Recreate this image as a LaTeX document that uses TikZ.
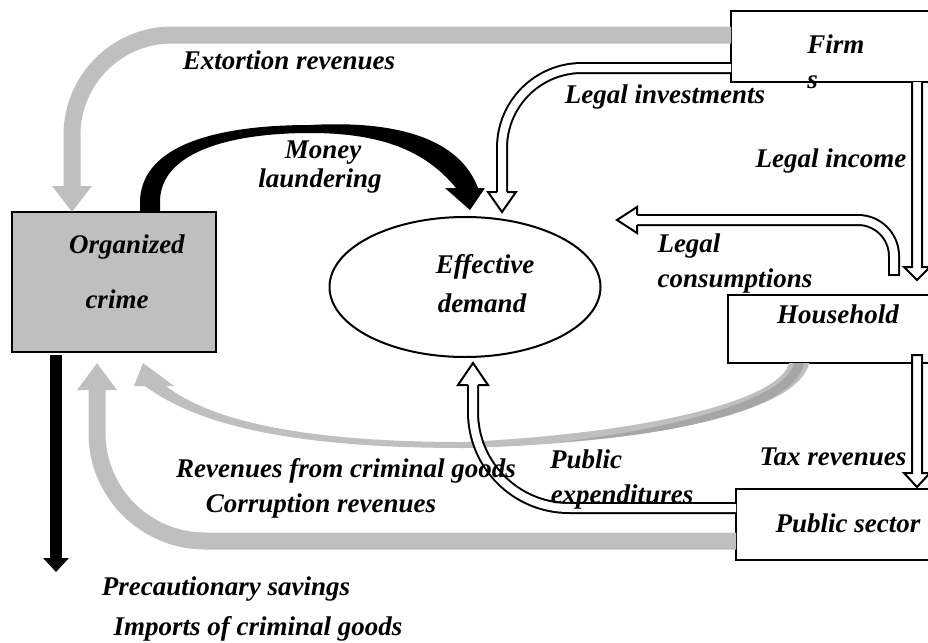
\documentclass[tikz,border=0pt]{standalone}
\usepackage{fontspec}
\setmainfont{Liberation Serif}
\usetikzlibrary{arrows.meta, shapes.geometric, calc}

\definecolor{flowgray}{HTML}{BFBFBF}
\definecolor{flowdark}{HTML}{A6A6A6}

\begin{document}
\begin{tikzpicture}[x=0.5pt, y=-0.5pt,
    sector/.style={draw, line width=1pt, inner sep=0pt, outer sep=0pt},
    hollow/.style={draw=black, line width=1pt, double=white, double distance=4pt},
    hollowhead/.style={draw=black, fill=white, line width=1pt, line join=miter},
    graybar/.style={draw=flowgray, line width=8.5pt},
    lbl/.style={font=\bfseries\itshape\fontsize{13.5}{16}\selectfont, inner sep=0pt, anchor=base}]
    \useasboundingbox (0,0) rectangle (928,643);

    % sectors
    \node[sector, fill=flowgray, minimum width=102pt, minimum height=70pt] (org) at (114,282) {};
    \node[sector, ellipse, minimum width=135.5pt, minimum height=70pt] (demand) at (465,287) {};
    \node[sector, minimum width=104.5pt, minimum height=35.5pt] (firm) at (835.5,46.5) {};
    \node[sector, minimum width=106pt, minimum height=34pt] (house) at (834,329) {};
    \node[sector, minimum width=102pt, minimum height=35.5pt] (pubsec) at (838,524.5) {};

    % criminal flows
    \draw[graybar, rounded corners=50pt, -{Triangle[width=19pt,length=13pt]}]
        (firm.west |- 0,35) -- (72,35) -- (org.north -| 72,0);
    \draw[graybar, rounded corners=54pt, -{Triangle[width=19pt,length=13.5pt]}]
        (pubsec.west |- 0,541) -- (97,541) -- (97,363);
    \fill[flowgray] (house.south -| 789,0) .. controls (780,400) and (650,433) .. (464,442)
        .. controls (300,442) and (210,420) .. (166,386) -- (174,386) -- (143,363)
        -- (134,386) -- (145,386) .. controls (200,427) and (300,448) .. (464,448)
        .. controls (660,443) and (800,410) .. (house.south -| 809,0) -- cycle;
    \fill[flowdark] (house.south -| 794,0) .. controls (787,398) and (680,428) .. (560,442)
        .. controls (690,434) and (798,405) .. (house.south -| 804,0) -- cycle;
    \fill (org.north -| 140,0) -- (140,200) .. controls (143,140) and (230,125) .. (310,125)
        .. controls (400,120) and (460,140) .. (478,188) -- (485,188) -- (470,210)
        -- (445,188) -- (456,188) .. controls (425,150) and (380,133) .. (310,133)
        .. controls (235,133) and (162,150) .. (160,200) -- (org.north -| 160,0) -- cycle;
    \draw[line width=6pt, -{Triangle[width=12.5pt,length=7pt]}]
        ($(org.south -| 56,0)+(0,3)$) -- (56,572);

    % legal flows
    \draw[hollow, rounded corners=40pt] (firm.west |- 0,68) -- (502,68) -- (502,192);
    \filldraw[hollowhead] (497,192) -- (488,192) -- (502,212) -- (516,192) -- (507,192);
    \filldraw[hollowhead] (firm.south -| 912,0) -- (912,267) -- (904,267) -- (917,280)
        -- (930,267) -- (922,267) -- (firm.south -| 922,0);
    \coordinate (lc-start) at (894,275);
    \draw[hollow, rounded corners=18pt] (lc-start) -- (894,220) -- (637,220);
    \draw[line width=1pt] (888,275) -- (900,275);
    \filldraw[hollowhead] (637,215) -- (637,207) -- (617,220) -- (637,233) -- (637,225);
    \filldraw[hollowhead] (912,355) -- (912,473) -- (904,473) -- (917,487)
        -- (930,473) -- (922,473) -- (922,355) -- cycle;
    \draw[hollow, rounded corners=48pt] (pubsec.west |- 0,508) -- (473,508) -- (473,385);
    \filldraw[hollowhead] (468,385) -- (458,385) -- (473,363) -- (488,385) -- (478,385);

    % labels
    \node[lbl] (org-l1) at (127,253) {Organized};
    \node[lbl] (org-l2) at (117,308) {crime};
    \node[lbl] (dem-l1) at (485,273) {Effective};
    \node[lbl] (dem-l2) at (482,312) {demand};
    \node[lbl, anchor=base west] (firm-l1) at (807,53) {Firm};
    \node[lbl, anchor=base west] (firm-l2) at (807,88) {s};
    \node[lbl] (house-l) at (838,323) {Household};
    \node[lbl] (pubsec-l) at (848,532) {Public sector};
    \node[lbl] (extort) at (289,69) {Extortion revenues};
    \node[lbl] (money-l1) at (323,158) {Money};
    \node[lbl] (money-l2) at (320,187) {laundering};
    \node[lbl] (invest) at (665,103) {Legal investments};
    \node[lbl] (income) at (831,167) {Legal income};
    \node[lbl] (consum-l1) at (689,252) {Legal};
    \node[lbl] (consum-l2) at (735,287) {consumptions};
    \node[lbl] (tax) at (833,465) {Tax revenues};
    \node[lbl] (expend-l1) at (586,468) {Public};
    \node[lbl] (expend-l2) at (622,503) {expenditures};
    \node[lbl] (crimgoods) at (346,477) {Revenues from criminal goods};
    \node[lbl] (corrupt) at (321,512) {Corruption revenues};
    \node[lbl] (savings) at (226,595) {Precautionary savings};
    \node[lbl] (imports) at (258,635) {Imports of criminal goods};
\end{tikzpicture}
\end{document}
